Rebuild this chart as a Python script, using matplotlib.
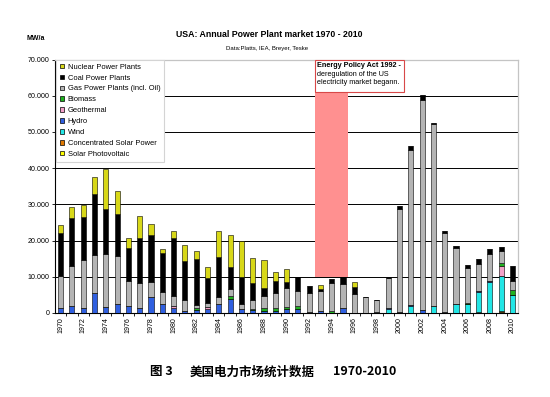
import matplotlib
matplotlib.use('Agg')
import matplotlib.pyplot as plt
from matplotlib.patches import Patch, Rectangle
from matplotlib.ticker import FuncFormatter, FixedLocator

plt.rcParams['font.family'] = ['Liberation Sans', 'DejaVu Sans']

# data (MW/a)
years = list(range(1970, 2011))

solar_pv = [0] * 39 + [200, 100]
csp = [0] * 37 + [400, 0, 300, 0]
wind = [0] * 29 + [1000, 0, 1900, 0, 1900, 0, 2400, 2500, 5400, 8600, 9800, 4900]
hydro = [1400, 1950, 1300, 5650, 1600, 2500, 2000, 1400, 4400, 2500,
         1400, 500, 800, 1000, 2500, 3800, 1100, 800, 650, 650,
         1000, 1000, 300, 600, 0, 1300, 0, 0, 200, 300,
         300, 200, 700, 0, 400, 150, 0, 200, 150, 0, 0]
geothermal = [0] * 10 + [500, 0, 0, 600] + [0] * 25 + [2700, 0]
biomass = [0, 0, 200, 0, 0, 0, 0, 0, 150, 0,
           0, 0, 600, 0, 0, 800, 0, 300, 750, 750,
           600, 900, 0, 0, 500, 0, 0, 0, 0, 0,
           0, 0, 0, 0, 0, 0, 150, 0, 0, 700, 1250]
gas = [8900, 11050, 13100, 10350, 14700, 13200, 6900, 7000, 4050, 3200,
       2700, 3100, 700, 1200, 1800, 2100, 1300, 2600, 3200, 4000,
       5300, 4300, 5300, 5400, 7800, 6700, 5300, 4300, 3300, 8400,
       28500, 42900, 58200, 50300, 21600, 15450, 9850, 7400, 7450, 3500, 2650]
coal = [11800, 13100, 11900, 16800, 12300, 11600, 9000, 12400, 13000, 11000,
        16100, 10800, 12700, 6900, 11300, 6100, 7600, 4700, 2300, 3300,
        1600, 3800, 1800, 600, 1200, 2000, 1900, 0, 0, 0,
        800, 1200, 1200, 300, 700, 600, 850, 1600, 1600, 900, 4200]
nuclear = [2100, 3300, 3400, 4800, 11300, 6500, 2800, 6000, 2900, 900,
           2000, 4400, 2300, 3100, 7000, 8800, 10000, 6700, 7800, 2500,
           3700, 0, 0, 1200, 0, 0, 1300] + [0] * 14

# stacking order bottom -> top
series = [
    ('Solar Photovoltaic', solar_pv, '#ffff00'),
    ('Concentrated Solar Power', csp, '#e07800'),
    ('Wind', wind, '#22e6e6'),
    ('Hydro', hydro, '#2f5fe0'),
    ('Geothermal', geothermal, '#f2a0c8'),
    ('Biomass', biomass, '#1fb01f'),
    ('Gas Power Plants (incl. Oil)', gas, '#b4b4b4'),
    ('Coal Power Plants', coal, '#000000'),
    ('Nuclear Power Plants', nuclear, '#d8d818'),
]

fig = plt.figure(figsize=(5.5, 3.97), dpi=100)
ax = fig.add_axes([0.1, 0.2116, 0.842, 0.6384])

x = list(range(len(years)))
bottom = [0] * len(years)
for name, vals, col in series:
    ax.bar(x, vals, width=0.45, bottom=bottom, color=col,
           edgecolor='black', linewidth=0.4, zorder=3)
    bottom = [b + v for b, v in zip(bottom, vals)]

ax.set_xlim(-0.5, len(years) - 0.5)
ax.set_ylim(0, 70000)

# grid lines
for g in range(10000, 70000, 10000):
    ax.axhline(g, color='black', lw=0.7, zorder=0.5)

# deregulation period
ax.axvspan(22.5, 25.45, ymin=10000 / 70000, ymax=1, color='#ff9090',
           lw=0, zorder=1)

# annotation box
ax.add_patch(Rectangle((22.5, 61000), 7.9, 9000, fc='white', ec='#d84848',
                       lw=0.8, zorder=4, clip_on=False))
ax.text(22.7, 69300, 'Energy Policy Act 1992 -', fontsize=5.2,
        fontweight='bold', va='top', ha='left', zorder=5)
ax.text(22.7, 66900, 'deregulation of the US\nelectricity market begann.',
        fontsize=5.2, va='top', ha='left', linespacing=1.25, zorder=5)

# axes styling
for s in ['left', 'bottom']:
    ax.spines[s].set_color('black')
    ax.spines[s].set_linewidth(0.8)
for s in ['top', 'right']:
    ax.spines[s].set_color('#c4c4c4')
    ax.spines[s].set_linewidth(0.9)

ax.set_yticks(range(0, 70001, 10000))
ax.yaxis.set_major_formatter(FuncFormatter(lambda v, p: f'{int(v):,}'.replace(',', '.')))
ax.tick_params(axis='y', labelsize=5.1, length=2, width=0.6, pad=2)

ax.set_xticks(x[::2])
ax.set_xticklabels([str(y) for y in years[::2]], rotation=90)
ax.xaxis.set_minor_locator(FixedLocator([i + 0.5 for i in x[:-1]]))
ax.tick_params(axis='x', which='major', labelsize=5.1, length=0, pad=3)
ax.tick_params(axis='x', which='minor', length=2.5, width=0.6)

# legend
handles = [Patch(facecolor=col, edgecolor='black', linewidth=0.5, label=name)
           for name, vals, col in reversed(series)]
leg = ax.legend(handles=handles, loc='upper left', bbox_to_anchor=(0.002, 1.0),
                fontsize=5.4, frameon=True, fancybox=False, framealpha=1,
                edgecolor='#d4d4d4', handlelength=0.55, handleheight=0.55,
                handletextpad=0.45, labelspacing=0.52, borderpad=0.55,
                borderaxespad=0)
leg.get_frame().set_linewidth(0.8)
leg.set_zorder(6)

# titles
fig.text(0.49, 0.914, 'USA: Annual Power Plant market 1970 - 2010',
         fontsize=6.3, fontweight='bold', ha='center', va='center')
fig.text(0.486, 0.878, 'Data:Platts, IEA, Breyer, Teske', fontsize=4.3,
         ha='center', va='center')
fig.text(0.049, 0.903, 'MW/a', fontsize=5, fontweight='bold',
         ha='left', va='center')

# caption
cjk = ['Noto Sans CJK SC', 'DejaVu Sans']
fig.text(0.273, 0.063, '图 3', fontsize=9, fontweight='bold', family=cjk,
         ha='left', va='center')
fig.text(0.344, 0.063, '美国电力市场统计数据', fontsize=9, fontweight='bold',
         family=cjk, ha='left', va='center')
fig.text(0.606, 0.063, '1970-2010', fontsize=9, fontweight='bold',
         family=cjk, ha='left', va='center')

fig.savefig('out.png', dpi=100)
